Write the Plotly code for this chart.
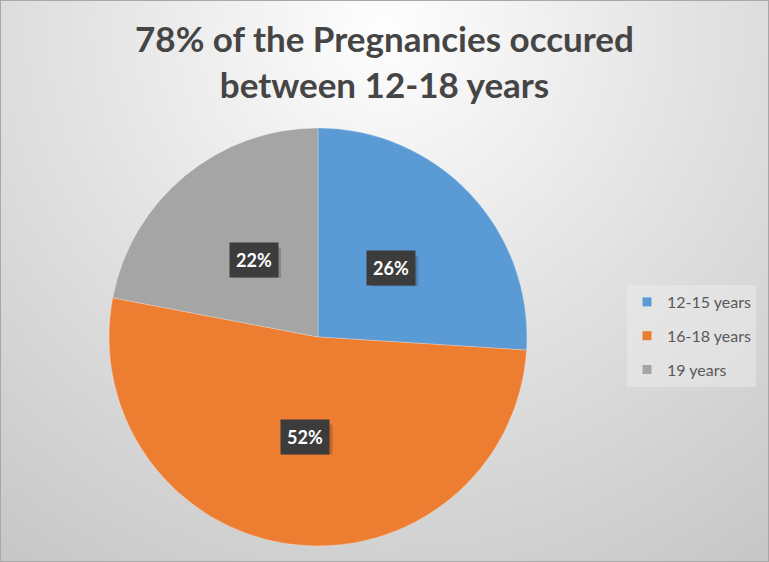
import base64
import math
import plotly.graph_objects as go

# data
labels = ['12-15 years', '16-18 years', '19 years']
values = [26, 52, 22]
colors = ['#5B9BD5', '#ED7D31', '#A5A5A5']
title = '78% of the Pregnancies occured<br>between 12-18 years'

W, H = 769, 562
cx, cy, R = 318, 337, 209   # pie centre / radius in pixels

# radial gradient background (Excel style)
svg = f'''<svg xmlns="http://www.w3.org/2000/svg" width="{W}" height="{H}">
<defs><radialGradient id="g" gradientUnits="userSpaceOnUse" cx="384" cy="30" r="660">
<stop offset="0" stop-color="#fefefe"/><stop offset="0.5" stop-color="#e1e1e1"/>
<stop offset="1" stop-color="#c6c6c6"/></radialGradient></defs>
<rect width="{W}" height="{H}" fill="url(#g)"/></svg>'''
bg = 'data:image/svg+xml;base64,' + base64.b64encode(svg.encode()).decode()

fig = go.Figure()
fig.add_trace(go.Pie(
    labels=labels, values=values, sort=False, direction='clockwise', rotation=0,
    marker=dict(colors=colors, line=dict(color='rgba(255,255,255,0.25)', width=1)),
    textinfo='none', showlegend=False,
    domain=dict(x=[(cx - R) / W, (cx + R) / W], y=[1 - (cy + R) / H, 1 - (cy - R) / H]),
))

# legend entries as dummy square markers (gives control over spacing)
for lab, col in zip(labels, colors):
    fig.add_trace(go.Scatter(x=[None], y=[None], mode='markers', name=lab, legendgroup=lab,
                             marker=dict(symbol='square', size=9, color=col)))

# data labels: dark boxes at slice mid-angles, with a soft shadow
shapes = []
total = sum(values)
cum = 0
for v in values:
    mid = (cum + v / 2) / total * 2 * math.pi
    cum += v
    px = cx + 0.48 * R * math.sin(mid)
    py = cy - 0.48 * R * math.cos(mid)
    shapes.append(dict(type='rect', xref='paper', yref='paper', xsizemode='pixel', ysizemode='pixel',
                       xanchor=px / W, yanchor=1 - py / H, x0=-20, x1=27, y0=-18, y1=12,
                       fillcolor='rgba(0,0,0,0.18)', line=dict(width=0), layer='above'))
    fig.add_annotation(x=px / W, y=1 - py / H, xref='paper', yref='paper', showarrow=False,
                       xanchor='center', yanchor='middle',
                       text=f'<b>{round(v / total * 100)}%</b>', bgcolor='#3c3c3c',
                       font=dict(family='Lato', size=18, color='white'), borderpad=6)

shapes.append(dict(type='rect', xref='paper', yref='paper', x0=0, y0=0, x1=1, y1=1,
                   line=dict(color='#a8a8a8', width=2)))

fig.update_layout(
    width=W, height=H,
    margin=dict(l=0, r=0, t=0, b=0),
    paper_bgcolor='#dedede', plot_bgcolor='rgba(0,0,0,0)',
    images=[dict(source=bg, xref='paper', yref='paper', x=0, y=1, sizex=1, sizey=1,
                 sizing='stretch', layer='below')],
    title=dict(text=title, x=0.5, xanchor='center', y=1 - 52 / H, yanchor='middle',
               font=dict(family='Lato', size=35, color='#454545', weight='bold')),
    xaxis=dict(visible=False), yaxis=dict(visible=False),
    legend=dict(x=627 / W, xanchor='left', y=1 - 285 / H, yanchor='top',
                font=dict(family='Lato', size=16, color='#595959'),
                bgcolor='rgba(240,240,240,0.45)', tracegroupgap=10, itemwidth=30),
    shapes=shapes,
)

fig.write_html('out.html', config={'displayModeBar': False},
               post_script="document.body.style.margin='0';")
